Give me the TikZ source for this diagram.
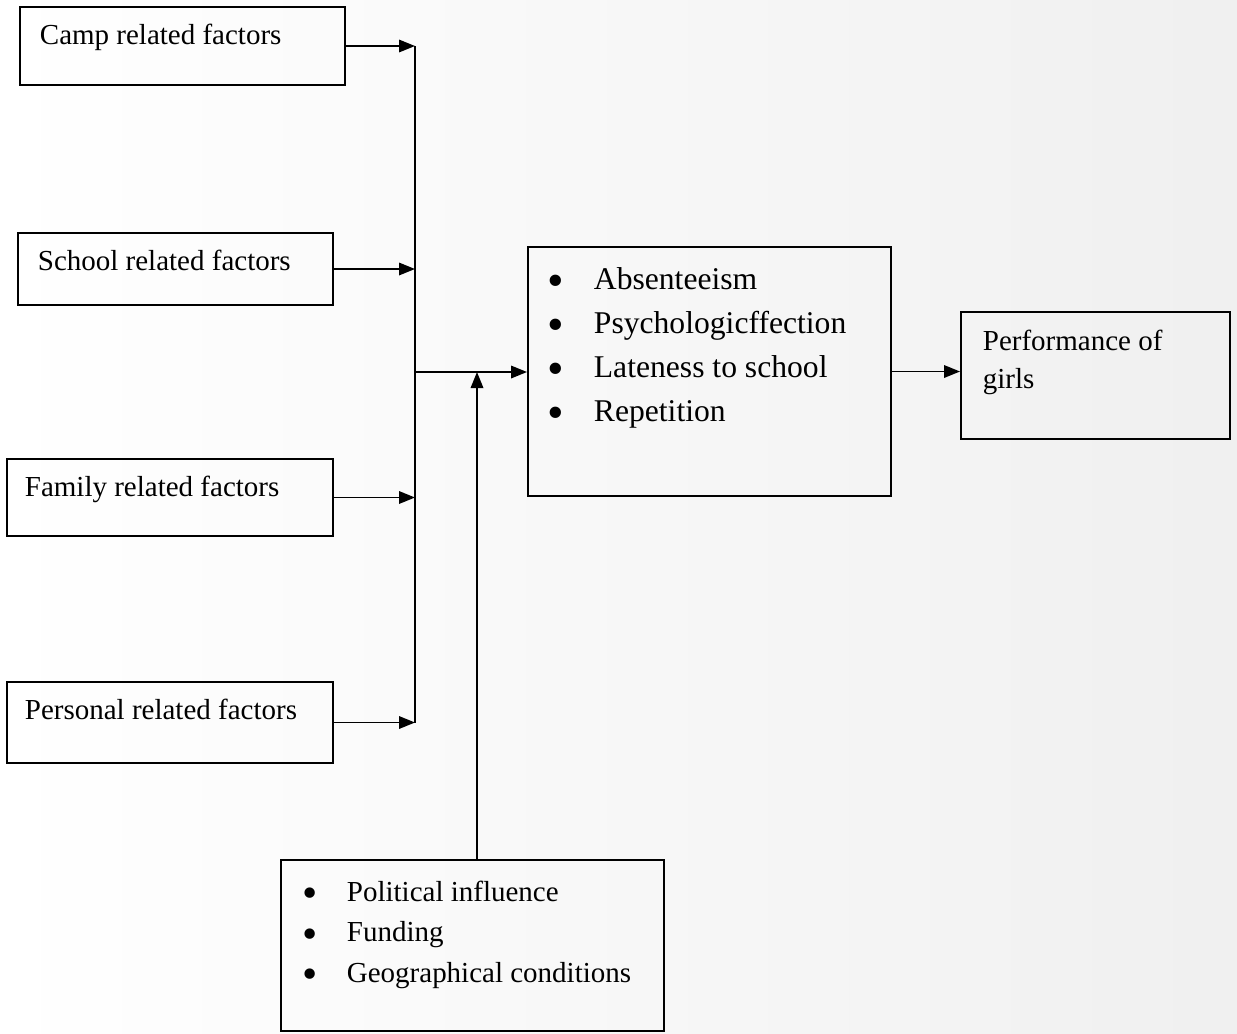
\documentclass[tikz,border=0pt]{standalone}
\usepackage{fontspec}
\setmainfont{Liberation Serif}
\usetikzlibrary{arrows.meta}
\newcommand{\blt}[1]{\makebox[#1][l]{\raisebox{-0.22em}{\scalebox{1.5}{\textbullet}}}}

\begin{document}
\begin{tikzpicture}[>={Triangle[length=0.32cm,width=0.25cm]}, line width=1pt,
  box/.style={rectangle, draw=black, line width=1.1pt, inner sep=0pt},
  lbl/.style={anchor=base west, inner sep=0pt, font=\fontsize{16.5}{21.6}\selectfont},
  lst/.style={anchor=north west, inner sep=0pt, align=left}]
\useasboundingbox (0,0) rectangle (24.74,-20.66);
\shade[left color=white, right color=black!6] (0,0) rectangle (24.74,-20.66);

\node[box, minimum width=6.50cm, minimum height=1.56cm] (1) at (3.65,-0.92) {};
\node[box, minimum width=6.30cm, minimum height=1.44cm] (2) at (3.51,-5.38) {};
\node[box, minimum width=6.52cm, minimum height=1.54cm] (3) at (3.40,-9.95) {};
\node[box, minimum width=6.52cm, minimum height=1.62cm] (4) at (3.40,-14.45) {};
\node[box, minimum width=7.26cm, minimum height=4.98cm] (5) at (14.19,-7.43) {};
\node[box, minimum width=5.38cm, minimum height=2.54cm] (6) at (21.91,-7.51) {};
\node[box, minimum width=7.66cm, minimum height=3.42cm] (7) at (9.45,-18.91) {};

\node[lbl] (1a) at ([xshift=0.40cm, yshift=-0.76cm]1.north west) {Camp related factors};
\node[lbl] (2a) at ([xshift=0.40cm, yshift=-0.76cm]2.north west) {School related factors};
\node[lbl] (3a) at ([xshift=0.36cm, yshift=-0.76cm]3.north west) {Family related factors};
\node[lbl] (4a) at ([xshift=0.36cm, yshift=-0.76cm]4.north west) {Personal related factors};

\node[lst, font=\fontsize{18}{25}\selectfont] (5a) at ([xshift=0.40cm, yshift=-0.42cm]5.north west)
  {\blt{0.92cm}Absenteeism\\
   \blt{0.92cm}Psychologicffection\\
   \blt{0.92cm}Lateness to school\\
   \blt{0.92cm}Repetition};
\node[lst, font=\fontsize{16.5}{21.6}\selectfont] (6a) at ([xshift=0.44cm, yshift=-0.36cm]6.north west)
  {Performance of\\ girls};
\node[lst, font=\fontsize{16.5}{23}\selectfont] (7a) at ([xshift=0.44cm, yshift=-0.42cm]7.north west)
  {\blt{0.88cm}Political influence\\
   \blt{0.88cm}Funding\\
   \blt{0.88cm}Geographical conditions};

\coordinate (t) at (8.30,-7.44);
\draw[->] (1) -- (1 -| t);
\draw[->] (2) -- (2 -| t);
\draw[->] (3) -- (3 -| t);
\draw[->] (4) -- (4 -| t);
\draw (1 -| t) -- (4 -| t);
\draw[->] (t) -- (t -| 5.west);
\draw[->] ([xshift=0.09cm]7.north) -- ([xshift=0.09cm]7.north |- t);
\draw[->] (5) -- (5 -| 6.west);
\end{tikzpicture}
\end{document}
